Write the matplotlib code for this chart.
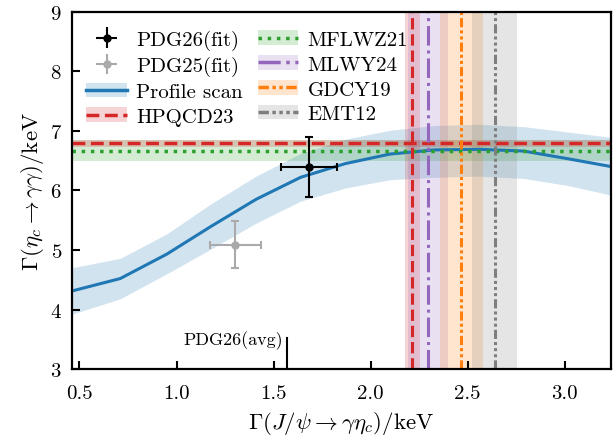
import numpy as np
import matplotlib
matplotlib.use("Agg")
import matplotlib.pyplot as plt
from matplotlib.lines import Line2D
from matplotlib.patches import Patch

plt.rcParams['font.family'] = 'cmr10'
plt.rcParams['mathtext.fontset'] = 'cm'
plt.rcParams['axes.formatter.use_mathtext'] = True

# profile scan
scan_x = [0.46, 0.71, 0.95, 1.18, 1.41, 1.64, 1.87, 2.10, 2.33, 2.56, 2.79, 3.02, 3.24]
scan_y = [4.31, 4.52, 4.93, 5.40, 5.85, 6.22, 6.45, 6.61, 6.68, 6.69, 6.66, 6.53, 6.40]
scan_hi = [4.70, 4.86, 5.27, 5.78, 6.24, 6.62, 6.86, 7.01, 7.09, 7.11, 7.07, 6.98, 6.89]
scan_lo = [3.92, 4.18, 4.60, 5.02, 5.45, 5.82, 6.04, 6.18, 6.22, 6.24, 6.20, 6.08, 5.92]

# PDG points: (x, xerr, y, yerr)
pdg26 = (1.683, 0.143, 6.39, 0.50)
pdg25 = (1.303, 0.132, 5.09, 0.40)
pdg26_avg = 1.568

# horizontal (eta_c -> gamma gamma) theory
hpqcd_y, hpqcd_dy = 6.788, 0.061
mflwz_y, mflwz_dy = 6.67, 0.18

# vertical (J/psi -> gamma eta_c) theory
hpqcd_x, hpqcd_dx = 2.216, 0.041
mlwy_x, mlwy_dx = 2.298, 0.103
gdcy_x, gdcy_dx = 2.467, 0.110
emt_x, emt_dx = 2.639, 0.115

c_blue, c_red, c_green = '#1f77b4', '#d62728', '#2ca02c'
c_purple, c_orange, c_gray = '#9467bd', '#ff7f0e', '#7f7f7f'
ls_gdcy = (0, (3, 1, 1, 1, 1, 1))
ls_emt = (0, (3, 1, 1, 1, 1, 1, 1, 1))

fig = plt.figure(figsize=(6.13, 4.39), dpi=100)
ax = fig.add_axes([0.117, 0.157, 0.880, 0.814])

ax.fill_between(scan_x, scan_lo, scan_hi, color=c_blue, alpha=0.2, lw=0)
ax.plot(scan_x, scan_y, color=c_blue, lw=2.2)

ax.axhspan(mflwz_y - mflwz_dy, mflwz_y + mflwz_dy, color=c_green, alpha=0.2, lw=0)
ax.axhline(mflwz_y, color=c_green, ls=':', lw=2.5)
ax.axhspan(hpqcd_y - hpqcd_dy, hpqcd_y + hpqcd_dy, color=c_red, alpha=0.2, lw=0)
ax.axhline(hpqcd_y, color=c_red, ls='--', lw=2.5)

for xc, dx, col, ls in [(hpqcd_x, hpqcd_dx, c_red, '--'),
                        (mlwy_x, mlwy_dx, c_purple, '-.'),
                        (gdcy_x, gdcy_dx, c_orange, ls_gdcy),
                        (emt_x, emt_dx, c_gray, ls_emt)]:
    ax.axvspan(xc - dx, xc + dx, color=col, alpha=0.2, lw=0)
    ax.axvline(xc, color=col, ls=ls, lw=2.2)

ax.errorbar(pdg25[0], pdg25[2], xerr=pdg25[1], yerr=pdg25[3], fmt='o', color='#aaaaaa',
            ms=5, capsize=3, elinewidth=1.5, capthick=1.5)
ax.errorbar(pdg26[0], pdg26[2], xerr=pdg26[1], yerr=pdg26[3], fmt='o', color='black',
            ms=5, capsize=3, elinewidth=1.5, capthick=1.5)

ax.plot([pdg26_avg, pdg26_avg], [3.0, 3.53], color='black', lw=1.5)
ax.text(pdg26_avg - 0.02, 3.33, 'PDG26(avg)', ha='right', va='bottom', fontsize=13)

ax.set_xlim(0.46, 3.24)
ax.set_ylim(3, 9)
ax.set_xticks([0.5, 1.0, 1.5, 2.0, 2.5, 3.0])
ax.set_yticks([3, 4, 5, 6, 7, 8, 9])
ax.set_xticklabels(['0.5', '1.0', '1.5', '2.0', '2.5', '3.0'])
ax.tick_params(direction='in', length=6, width=1.5, labelsize=15)
ax.tick_params(axis='x', pad=11)
ax.tick_params(axis='y', pad=7)
for s in ax.spines.values():
    s.set_linewidth(1.6)
ax.set_xlabel(r'$\Gamma(J/\psi\to\gamma\eta_c)/\mathrm{keV}$', fontsize=16.5, labelpad=5)
ax.set_ylabel(r'$\Gamma(\eta_c\to\gamma\gamma)/\mathrm{keV}$', fontsize=16.5, labelpad=3)

h26 = ax.errorbar([], [], xerr=[], yerr=[], fmt='o', color='black', ms=5, capsize=3)
h25 = ax.errorbar([], [], xerr=[], yerr=[], fmt='o', color='#aaaaaa', ms=5, capsize=3)

def band(col, ls, lw=2.5):
    return (Patch(color=col, alpha=0.2, lw=0), Line2D([], [], color=col, ls=ls, lw=lw))

handles = [h26, h25, band(c_blue, '-'), band(c_red, '--'),
           band(c_green, ':'), band(c_purple, '-.'), band(c_orange, ls_gdcy), band(c_gray, ls_emt)]
labels = ['PDG26(fit)', 'PDG25(fit)', 'Profile scan', 'HPQCD23',
          'MFLWZ21', 'MLWY24', 'GDCY19', 'EMT12']
ax.legend(handles, labels, loc='upper left', bbox_to_anchor=(0.0, 0.99), ncol=2,
          frameon=False, fontsize=15, handlelength=1.95, handletextpad=0.45,
          columnspacing=0.7, labelspacing=0.3, borderaxespad=0.3)

fig.savefig('out.png', dpi=100)
